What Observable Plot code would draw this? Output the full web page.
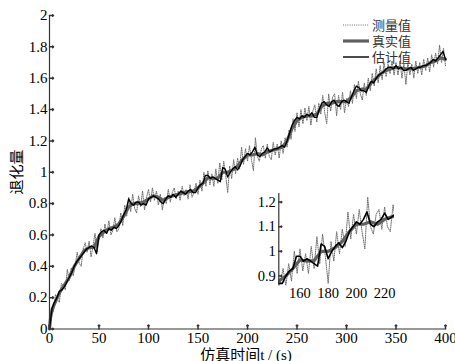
<!DOCTYPE html>
<html><head><meta charset="utf-8">
<script src="https://cdn.jsdelivr.net/npm/d3@7"></script>
<script src="https://cdn.jsdelivr.net/npm/@observablehq/plot@0.6"></script>
<style>
body{margin:0;background:#fff;}
#wrap{position:relative;width:455px;height:361px;overflow:hidden;background:#fff;}
#main{position:absolute;left:0;top:0;}
#inset{position:absolute;left:250px;top:185px;}
.lab{position:absolute;font-family:"Liberation Serif","Noto Sans CJK SC",serif;font-size:15px;color:#000;white-space:nowrap;line-height:1;}
#legend{position:absolute;left:340px;top:15px;font-family:"Noto Sans CJK SC",sans-serif;font-size:13px;color:#333;}
.row{position:absolute;left:0;height:16px;white-space:nowrap;}
.row svg{position:absolute;left:0;top:0;}
.row span{position:absolute;left:32px;top:1px;line-height:14px;height:14px;}
</style></head>
<body><div id="wrap"></div>
<script>
// ---- axes ----
const xTicks = [0, 50, 100, 150, 200, 250, 300, 350, 400];
const yTicks = [0, 0.2, 0.4, 0.6, 0.8, 1, 1.2, 1.4, 1.6, 1.8, 2];
const insetXTicks = [160, 180, 200, 220];
const insetYTicks = [0.9, 1, 1.1, 1.2];
const seriesNames = ["测量值", "真实值", "估计值"];
const xLabel = "仿真时间t / (s)";
const yLabel = "退化量";

// ---- true value (真实值) ----
const trueTime = [0, 1, 2.5, 5, 10, 15, 20, 25, 30, 35, 40, 45, 50, 55, 60, 65, 70, 75, 80, 85, 90, 95, 100,
  105, 110, 115, 120, 125, 130, 135, 140, 145, 150, 155, 160, 165, 170, 175, 180, 185, 190, 195, 200,
  205, 210, 215, 220, 225, 230, 235, 240, 245, 250, 255, 260, 265, 270, 275, 280, 285, 290, 295, 300,
  305, 310, 315, 320, 325, 330, 335, 340, 345, 350, 355, 360, 365, 370, 375, 380, 385, 390, 395, 400];
const trueValue = [0, 0.07, 0.12, 0.16, 0.23, 0.28, 0.33, 0.40, 0.45, 0.50, 0.52, 0.52, 0.59, 0.62, 0.64, 0.65, 0.67, 0.72, 0.78, 0.80, 0.80, 0.81, 0.83,
  0.85, 0.84, 0.82, 0.84, 0.85, 0.86, 0.87, 0.875, 0.88, 0.90, 0.93, 0.965, 0.96, 0.962, 1.00, 1.00, 1.015, 1.04, 1.08, 1.11,
  1.11, 1.12, 1.11, 1.13, 1.14, 1.15, 1.16, 1.20, 1.28, 1.33, 1.35, 1.36, 1.36, 1.37, 1.42, 1.44, 1.44, 1.45, 1.45, 1.45,
  1.48, 1.52, 1.53, 1.53, 1.57, 1.60, 1.63, 1.65, 1.66, 1.67, 1.665, 1.66, 1.66, 1.665, 1.67, 1.68, 1.70, 1.71, 1.73, 1.72];

// ---- estimate (估计值), sampled every 2.5 s ----
const estStep = 2.5;
const estValue = [
  0, 0.13, 0.17, 0.20, 0.24, 0.25, 0.27, 0.30, 0.33, 0.36,
  0.40, 0.43, 0.45, 0.47, 0.49, 0.51, 0.52, 0.53, 0.52, 0.48,
  0.60, 0.62, 0.63, 0.61, 0.64, 0.63, 0.65, 0.64, 0.66, 0.69,
  0.73, 0.76, 0.83, 0.80, 0.79, 0.81, 0.81, 0.79, 0.80, 0.79,
  0.83, 0.84, 0.85, 0.84, 0.83, 0.81, 0.80, 0.83, 0.85, 0.84,
  0.86, 0.84, 0.86, 0.88, 0.87, 0.86, 0.88, 0.89, 0.87, 0.87,
  0.90, 0.92, 0.93, 0.98, 0.98, 0.96, 0.97, 0.96, 0.95, 0.94,
  1.03, 1.02, 0.97, 1.00, 1.02, 1.035, 1.015, 1.04, 1.08, 1.10,
  1.12, 1.11, 1.13, 1.16, 1.11, 1.10, 1.12, 1.13, 1.155, 1.13,
  1.14, 1.15, 1.15, 1.16, 1.17, 1.16, 1.20, 1.25, 1.30, 1.33,
  1.35, 1.34, 1.36, 1.35, 1.37, 1.36, 1.38, 1.35, 1.35, 1.40,
  1.44, 1.45, 1.43, 1.42, 1.45, 1.46, 1.43, 1.42, 1.45, 1.46,
  1.45, 1.44, 1.48, 1.52, 1.55, 1.54, 1.52, 1.52, 1.51, 1.55,
  1.58, 1.57, 1.60, 1.62, 1.63, 1.64, 1.66, 1.67, 1.67, 1.66,
  1.68, 1.66, 1.67, 1.65, 1.65, 1.66, 1.67, 1.65, 1.66, 1.67,
  1.67, 1.68, 1.68, 1.69, 1.70, 1.72, 1.71, 1.73, 1.75, 1.77,
  1.72];

// ---- measurement (测量值), sampled every 2 s ----
const measStep = 2;
const measValue = [
  0.00, 0.12, 0.11, 0.22, 0.19, 0.17, 0.29, 0.28, 0.25, 0.38, 0.31, 0.39, 0.34, 0.41, 0.49, 0.42, 0.40, 0.51, 0.55, 0.49, 0.56, 0.46, 0.53, 0.61, 0.49, 0.57,
  0.64, 0.58, 0.67, 0.61, 0.69, 0.60, 0.63, 0.71, 0.62, 0.64, 0.74, 0.66, 0.79, 0.72, 0.84, 0.75, 0.86, 0.77, 0.74, 0.85, 0.78, 0.88, 0.76, 0.84, 0.89,
  0.81, 0.90, 0.82, 0.88, 0.79, 0.86, 0.76, 0.84, 0.80, 0.89, 0.81, 0.87, 0.90, 0.83, 0.88, 0.82, 0.91, 0.85, 0.89, 0.83, 0.92, 0.84, 0.87, 0.93, 0.86,
  0.95, 0.88, 1.00, 0.91, 1.01, 0.92, 0.99, 0.91, 1.02, 0.93, 1.06, 0.95, 1.07, 0.98, 0.87, 1.04, 0.96, 1.08, 0.99, 1.09, 1.02, 1.16, 1.05, 1.15, 1.07,
  1.17, 1.08, 1.01, 1.22, 1.10, 1.07, 1.15, 1.17, 1.09, 1.18, 1.10, 1.08, 1.19, 1.11, 1.18, 1.09, 1.20, 1.12, 1.22, 1.16, 1.27, 1.21, 1.34, 1.26, 1.38,
  1.29, 1.40, 1.31, 1.41, 1.33, 1.42, 1.30, 1.39, 1.43, 1.32, 1.44, 1.37, 1.49, 1.38, 1.31, 1.50, 1.39, 1.48, 1.50, 1.36, 1.49, 1.40, 1.51, 1.38, 1.47,
  1.42, 1.52, 1.44, 1.56, 1.47, 1.58, 1.50, 1.46, 1.57, 1.49, 1.60, 1.52, 1.63, 1.55, 1.66, 1.57, 1.68, 1.59, 1.70, 1.61, 1.69, 1.63, 1.71, 1.62, 1.70,
  1.62, 1.71, 1.60, 1.69, 1.56, 1.70, 1.62, 1.69, 1.60, 1.71, 1.63, 1.70, 1.62, 1.72, 1.65, 1.73, 1.64, 1.75, 1.67, 1.76, 1.69, 1.81, 1.70, 1.79, 1.68];

const trueData = trueTime.map((t, i) => ({t, v: trueValue[i]}));
const estData = estValue.map((v, i) => ({t: i * estStep, v}));
const measData = measValue.map((v, i) => ({t: i * measStep, v}));

const measStyle = {stroke: "#6e6e6e", strokeWidth: 1, strokeDasharray: "1,1.2"};
const trueStyle = {stroke: "#606060", strokeWidth: 3.2};
const estStyle = {stroke: "#000", strokeWidth: 1.4};
const axisColor = "#333";
const fmt = d => String(d);

const main = Plot.plot({
  width: 455, height: 361,
  marginLeft: 49, marginRight: 10, marginTop: 15, marginBottom: 32.5,
  x: {domain: [0, 400]},
  y: {domain: [0, 2]},
  style: {fontFamily: '"Liberation Serif", serif', fontSize: "15px", color: "#000", background: "transparent"},
  marks: [
    Plot.line(measData, {x: "t", y: "v", ...measStyle}),
    Plot.line(trueData, {x: "t", y: "v", ...trueStyle}),
    Plot.line(estData, {x: "t", y: "v", ...estStyle}),
    Plot.ruleX([0], {stroke: axisColor, strokeWidth: 1.2}),
    Plot.ruleY([0], {stroke: axisColor, strokeWidth: 1.2}),
    Plot.vector(xTicks, {x: d => d, frameAnchor: "bottom", rotate: 0, length: 4, anchor: "start", stroke: axisColor}),
    Plot.vector(yTicks, {y: d => d, frameAnchor: "left", rotate: 90, length: 4, anchor: "start", stroke: axisColor}),
    Plot.axisX({ticks: xTicks, tickFormat: fmt, tickSize: 0, tickPadding: 3, label: null}),
    Plot.axisY({ticks: yTicks, tickFormat: fmt, tickSize: 0, tickPadding: 2, label: null})
  ]
});
main.id = "main";

const inset = Plot.plot({
  width: 150, height: 120,
  marginLeft: 28.3, marginRight: 6, marginTop: 8, marginBottom: 19.7,
  x: {domain: [145, 227]},
  y: {domain: [0.86, 1.235]},
  style: {fontFamily: '"Liberation Serif", serif', fontSize: "14.5px", color: "#000", background: "#fff"},
  marks: [
    Plot.line(measData, {x: "t", y: "v", ...measStyle, clip: true}),
    Plot.line(trueData, {x: "t", y: "v", ...trueStyle, clip: true}),
    Plot.line(estData, {x: "t", y: "v", ...estStyle, strokeWidth: 1.6, clip: true}),
    Plot.ruleX([145], {stroke: axisColor, strokeWidth: 1.2}),
    Plot.vector(insetYTicks, {y: d => d, frameAnchor: "left", rotate: 90, length: 3, anchor: "start", stroke: axisColor}),
    Plot.axisX({ticks: insetXTicks, tickFormat: fmt, tickSize: 0, tickPadding: 2, label: null}),
    Plot.axisY({ticks: insetYTicks, tickFormat: fmt, tickSize: 0, tickPadding: 3, label: null})
  ]
});
inset.id = "inset";

const wrap = document.getElementById("wrap");
wrap.appendChild(main);
wrap.appendChild(inset);

// axis titles
const xl = document.createElement("div");
xl.className = "lab"; xl.textContent = xLabel;
xl.style.left = "246px"; xl.style.top = "355px"; xl.style.transform = "translate(-50%,-50%)";
wrap.appendChild(xl);
const yl = document.createElement("div");
yl.className = "lab"; yl.textContent = yLabel;
yl.style.left = "17px"; yl.style.top = "172px"; yl.style.transform = "translate(-50%,-50%) rotate(-90deg)";
wrap.appendChild(yl);

// legend
const legend = document.createElement("div");
legend.id = "legend";
const legStyles = [measStyle, trueStyle, estStyle];
seriesNames.forEach((name, i) => {
  const row = document.createElement("div");
  row.className = "row";
  row.style.top = (i * 16 + 2) + "px";
  const s = legStyles[i];
  row.innerHTML = `<svg width="30" height="16"><line x1="3" x2="29" y1="8" y2="8" stroke="${s.stroke}" stroke-width="${s.strokeWidth}" ${s.strokeDasharray ? `stroke-dasharray="${s.strokeDasharray}"` : ""}/></svg><span>${name}</span>`;
  legend.appendChild(row);
});
wrap.appendChild(legend);
</script>
</body></html>
